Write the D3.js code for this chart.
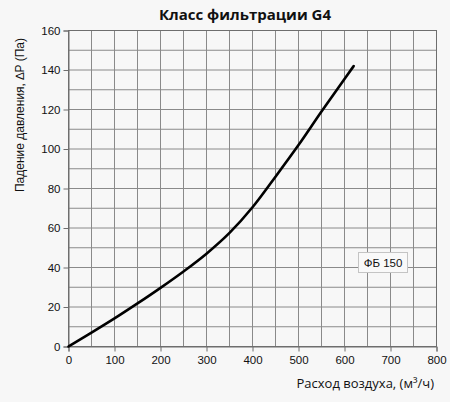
<!DOCTYPE html>
<html><head><meta charset="utf-8">
<script src="https://cdn.jsdelivr.net/npm/d3@7"></script>
<style>html,body{margin:0;padding:0;background:#f7f7f7;}</style>
</head><body>
<svg id="c" width="450" height="402"></svg>
<script>
const flow = [0, 50, 100, 150, 200, 250, 300, 350, 400, 450, 500, 550, 600, 620];
const pressure = [0, 7, 14.2, 21.8, 29.7, 38, 47, 57.5, 70.5, 86, 102, 119, 135.5, 142];
const xTicks = [0, 100, 200, 300, 400, 500, 600, 700, 800];
const yTicks = [0, 20, 40, 60, 80, 100, 120, 140, 160];
const title = "Класс фильтрации G4";
const xTitle = "Расход воздуха, (м³/ч)";
const yTitle = "Падение давления, ∆P (Па)";
const legendLabel = "ФБ 150";

const ARIAL = "'Liberation Sans', Arial, sans-serif";
const svg = d3.select("#c");
svg.append("rect").attr("width",450).attr("height",402).attr("fill","#f7f7f7");
const L=68.5,R=436.5,T=30.5,B=346.5;
const x = d3.scaleLinear().domain([0,800]).range([L,R]);
const y = d3.scaleLinear().domain([0,160]).range([B,T]);

const g = svg.append("g");
g.selectAll(".vg").data(d3.range(0,801,50)).enter().append("line")
 .attr("x1",d=>x(d)).attr("x2",d=>x(d)).attr("y1",T).attr("y2",B)
 .attr("stroke","#8a8a8a").attr("stroke-width",1);
g.selectAll(".hg").data(d3.range(0,161,10)).enter().append("line")
 .attr("y1",d=>y(d)).attr("y2",d=>y(d)).attr("x1",L).attr("x2",R)
 .attr("stroke","#8a8a8a").attr("stroke-width",1);
g.append("rect").attr("x",L).attr("y",T).attr("width",R-L).attr("height",B-T)
 .attr("fill","none").attr("stroke","#6e6e6e").attr("stroke-width",1);

const xAxis = d3.axisBottom(x).tickValues(xTicks).tickSize(5).tickPadding(4).tickFormat(d3.format("d"));
const yAxis = d3.axisLeft(y).tickValues(yTicks).tickSize(5).tickPadding(3).tickFormat(d3.format("d"));
const xa = svg.append("g").attr("transform",`translate(0,${B})`).call(xAxis);
const ya = svg.append("g").attr("transform",`translate(${L},0)`).call(yAxis);
[xa,ya].forEach(a=>{
  a.attr("font-family",null).attr("font-size",null);
  a.select(".domain").attr("stroke","#6e6e6e");
  a.selectAll(".tick line").attr("stroke","#6e6e6e");
  a.selectAll("text").style("font-family",ARIAL).style("font-size","11.5px").attr("fill","#111");
});

const pts = flow.map((f,i)=>[f,pressure[i]]);
svg.append("path").datum(pts)
 .attr("d", d3.line().x(d=>x(d[0])).y(d=>y(d[1])).curve(d3.curveMonotoneX))
 .attr("fill","none").attr("stroke","#000").attr("stroke-width",2.6).attr("stroke-linecap","round");

const lg = svg.append("g");
lg.append("rect").attr("x",358.5).attr("y",252.5).attr("width",49).attr("height",20)
 .attr("fill","#f9f9f9").attr("stroke","#c4c4c4").attr("stroke-width",1);
lg.append("text").attr("x",383).attr("y",267).attr("text-anchor","middle")
 .style("font-family",ARIAL).style("font-size","11.5px").attr("fill","#111").text(legendLabel);

svg.append("text").attr("x",245).attr("y",20).attr("text-anchor","middle")
 .style("font-family","'Open Sans', sans-serif").attr("font-weight","bold").style("font-size","15px").attr("fill","#111").text(title);
svg.append("text").attr("x",434).attr("y",388).attr("text-anchor","end")
 .style("font-family","'Open Sans', sans-serif").style("font-size","13px").attr("fill","#111").text(xTitle);
svg.append("text").attr("transform","translate(24,115) rotate(-90)").attr("text-anchor","middle")
 .style("font-family",ARIAL).style("font-size","12px").attr("fill","#111").text(yTitle);
</script>
</body></html>
